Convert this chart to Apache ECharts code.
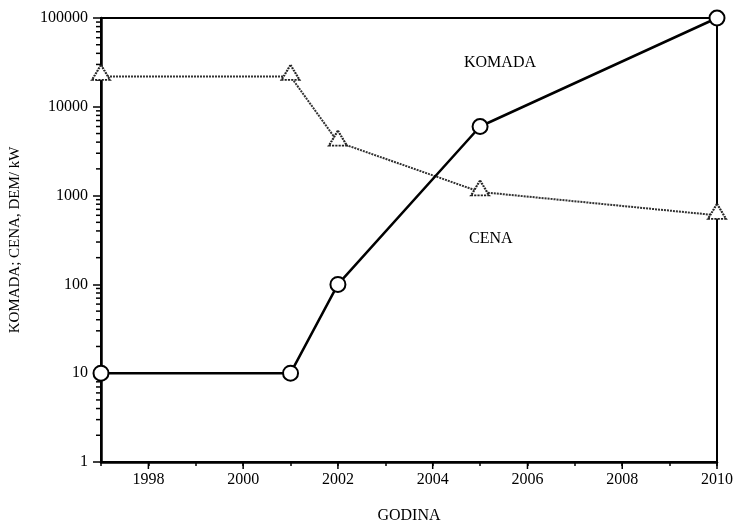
<!DOCTYPE html>
<html>
<head>
<meta charset="utf-8">
<script src="https://cdn.jsdelivr.net/npm/echarts@6/dist/echarts.min.js"></script>
<style>
  html, body { margin: 0; padding: 0; background: #fff; }
  #chart { width: 737px; height: 529px; }
</style>
</head>
<body>
<div id="chart"></div>
<script>
// Units sold (KOMADA) and price (CENA, DEM/kW) by year, log scale
const komadaYears = [1997, 2001, 2002, 2005, 2010];
const komadaValues = [10, 10, 100, 6000, 100000];

const cenaYears = [1997, 2001, 2002, 2005, 2010];
const cenaValues = [22000, 22000, 4000, 1100, 600];

// Year ticks: even years get a long tick and a label, odd years a short tick
const labelYears = [1998, 2000, 2002, 2004, 2006, 2008, 2010];
const decades = [1, 10, 100, 1000, 10000];
const minorMultipliers = [2, 3, 4, 5, 6, 7, 8, 9];

const X_MIN = 1997, X_MAX = 2010;
const Y_MIN = 1, Y_MAX = 100000;

const serif = '"Liberation Serif", "DejaVu Serif", serif';

const minorYTicks = [];
decades.forEach(d => minorMultipliers.forEach(m => minorYTicks.push([X_MIN, d * m])));
const majorXTicks = labelYears.map(y => [y, Y_MIN]);

const chart = echarts.init(document.getElementById('chart'), null, { renderer: 'canvas' });

chart.setOption({
  animation: false,
  backgroundColor: '#fff',
  grid: {
    left: 100, right: 20, top: 18, bottom: 64,
    show: true, borderColor: '#000', borderWidth: 2, backgroundColor: 'transparent'
  },
  xAxis: {
    type: 'value',
    min: X_MIN, max: X_MAX, interval: 1,
    name: 'GODINA',
    nameLocation: 'middle',
    nameGap: 46,
    nameTextStyle: { fontFamily: serif, fontSize: 16, color: '#000' },
    axisLine: { show: true, lineStyle: { color: '#000', width: 2.5 } },
    axisTick: { show: true, length: 4, lineStyle: { color: '#000', width: 1.5 } },
    axisLabel: {
      margin: 10,
      fontFamily: serif, fontSize: 16, color: '#000',
      formatter: v => (labelYears.indexOf(v) >= 0 ? String(v) : '')
    },
    splitLine: { show: false }
  },
  yAxis: {
    type: 'log',
    logBase: 10,
    min: Y_MIN, max: Y_MAX,
    name: 'KOMADA; CENA, DEM/ kW',
    nameLocation: 'middle',
    nameGap: 78,
    nameTextStyle: { fontFamily: serif, fontSize: 15, color: '#000' },
    axisLine: { show: true, lineStyle: { color: '#000', width: 2.5 } },
    axisTick: { show: true, length: 8, lineStyle: { color: '#000', width: 1.5 } },
    axisLabel: {
      margin: 13, fontFamily: serif, fontSize: 16, color: '#000',
      formatter: v => String(Math.round(v))
    },
    splitLine: { show: false }
  },
  graphic: [
    { type: 'text', left: 464, top: 55, style: { text: 'KOMADA', font: '16px ' + serif, fill: '#000' } },
    { type: 'text', left: 469, top: 231, style: { text: 'CENA', font: '16px ' + serif, fill: '#000' } }
  ],
  series: [
    {
      name: 'y minor ticks',
      type: 'custom',
      silent: true,
      clip: false,
      z: 1,
      data: minorYTicks,
      renderItem: (params, api) => {
        const p = api.coord([api.value(0), api.value(1)]);
        return {
          type: 'line',
          shape: { x1: p[0] - 5, y1: p[1], x2: p[0], y2: p[1] },
          style: { stroke: '#000', lineWidth: 1.5 }
        };
      }
    },
    {
      name: 'x major ticks',
      type: 'custom',
      silent: true,
      clip: false,
      z: 1,
      data: majorXTicks,
      renderItem: (params, api) => {
        const p = api.coord([api.value(0), api.value(1)]);
        return {
          type: 'line',
          shape: { x1: p[0], y1: p[1], x2: p[0], y2: p[1] + 7 },
          style: { stroke: '#000', lineWidth: 1.5 }
        };
      }
    },
    {
      name: 'CENA',
      type: 'line',
      clip: false,
      z: 3,
      data: cenaYears.map((y, i) => [y, cenaValues[i]]),
      symbol: 'triangle',
      symbolSize: [18, 15],
      symbolOffset: [0, -4],
      showAllSymbol: true,
      lineStyle: { color: '#333', width: 2, type: [2, 1] },
      itemStyle: { color: '#fff', borderColor: '#222', borderWidth: 2, borderType: [2, 1] }
    },
    {
      name: 'KOMADA',
      type: 'line',
      clip: false,
      z: 4,
      data: komadaYears.map((y, i) => [y, komadaValues[i]]),
      symbol: 'circle',
      symbolSize: 15,
      showAllSymbol: true,
      lineStyle: { color: '#000', width: 2.5 },
      itemStyle: { color: '#fff', borderColor: '#000', borderWidth: 2 }
    }
  ]
});
</script>
</body>
</html>
